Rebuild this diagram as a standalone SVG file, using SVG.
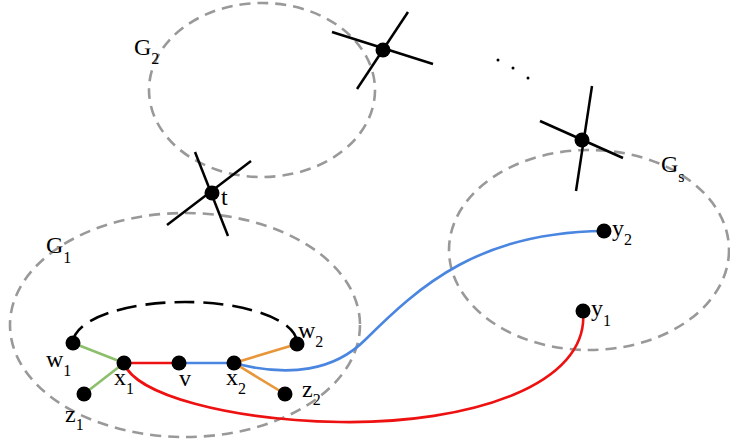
<svg xmlns="http://www.w3.org/2000/svg" width="730" height="444" viewBox="0 0 730 444">
<style>
.reg{fill:none;stroke:#999;stroke-width:2.6;stroke-dasharray:11 7}
.nd{fill:#000}
.cr{stroke:#000;stroke-width:2.5;fill:none}
.lb{font-family:"Liberation Serif","Times New Roman",serif;font-size:24px;fill:#000}
.sb{font-size:16px}
.e{fill:none;stroke-width:2.6}
.red{stroke:#ee1111}
.blue{stroke:#4a86e0}
.green{stroke:#8cbf6b}
.orange{stroke:#e8963a}
</style>
<rect width="730" height="444" fill="#fff"/>
<g id="regions">
<ellipse id="G1" class="reg" cx="185" cy="325" rx="175" ry="112"/>
<ellipse id="G2" class="reg" cx="262" cy="90" rx="113" ry="87"/>
<ellipse id="Gs" class="reg" cx="589" cy="250" rx="140" ry="100"/>
</g>
<g id="connectors">
<path class="e" d="M73,343 A112,41 0 0 1 297,343" stroke="#000" stroke-dasharray="20 9"/>
<line class="e green" x1="73" y1="343" x2="124" y2="363"/>
<line class="e green" x1="84" y1="394" x2="124" y2="363"/>
<line class="e red" x1="124" y1="363" x2="179" y2="363"/>
<line class="e blue" x1="179" y1="363" x2="234" y2="363"/>
<line class="e orange" x1="234" y1="363" x2="297" y2="344"/>
<line class="e orange" x1="234" y1="363" x2="285" y2="394"/>
<path class="e red" d="M124,363 C135,395 230,420 340,422 C470,424 590,385 583,311"/>
<path class="e blue" d="M234,363 C290,378 335,370 365,340 C420,285 480,232 604,231"/>
<line class="cr" x1="195" y1="152" x2="228" y2="236"/>
<line class="cr" x1="167" y1="225" x2="251" y2="161"/>
<line class="cr" x1="332" y1="32" x2="433" y2="64"/>
<line class="cr" x1="408" y1="12" x2="357" y2="89"/>
<line class="cr" x1="592" y1="86" x2="576" y2="191"/>
<line class="cr" x1="540" y1="121" x2="623" y2="158"/>
</g>
<g id="dots">
<circle cx="498" cy="60" r="1.5"/>
<circle cx="513" cy="68" r="1.5"/>
<circle cx="528" cy="78" r="1.5"/>
</g>
<g id="node-t"><circle class="nd" cx="212" cy="193" r="7.5"/><text class="lb" x="221" y="205">t</text></g>
<g id="node-a"><circle class="nd" cx="383" cy="50" r="7.5"/></g>
<g id="node-b"><circle class="nd" cx="582" cy="140" r="7.5"/></g>
<g id="node-w1"><circle class="nd" cx="73" cy="343" r="7.5"/><text class="lb" x="46" y="367">w<tspan class="sb" dy="9">1</tspan></text></g>
<g id="node-x1"><circle class="nd" cx="124" cy="363" r="7.5"/><text class="lb" x="114" y="385">x<tspan class="sb" dy="9">1</tspan></text></g>
<g id="node-v"><circle class="nd" cx="179" cy="363" r="7.5"/><text class="lb" x="179" y="386">v</text></g>
<g id="node-x2"><circle class="nd" cx="234" cy="363" r="7.5"/><text class="lb" x="226" y="385">x<tspan class="sb" dy="9">2</tspan></text></g>
<g id="node-w2"><circle class="nd" cx="297" cy="344" r="7.5"/><text class="lb" x="298" y="338">w<tspan class="sb" dy="9">2</tspan></text></g>
<g id="node-z1"><circle class="nd" cx="84" cy="394" r="7.5"/><text class="lb" x="65" y="422">z<tspan class="sb" dy="8">1</tspan></text></g>
<g id="node-z2"><circle class="nd" cx="285" cy="394" r="7.5"/><text class="lb" x="302" y="397">z<tspan class="sb" dy="8">2</tspan></text></g>
<g id="node-y2"><circle class="nd" cx="604" cy="231" r="7.5"/><text class="lb" x="612" y="236">y<tspan class="sb" dy="9">2</tspan></text></g>
<g id="node-y1"><circle class="nd" cx="583" cy="311" r="7.5"/><text class="lb" x="591" y="316">y<tspan class="sb" dy="10">1</tspan></text></g>
<g id="labels">
<text class="lb" x="134" y="55">G<tspan class="sb" dy="9">2</tspan></text>
<text class="lb" x="46" y="253">G<tspan class="sb" dy="10">1</tspan></text>
<text class="lb" x="661" y="172">G<tspan class="sb" dy="10">s</tspan></text>
</g>
</svg>
